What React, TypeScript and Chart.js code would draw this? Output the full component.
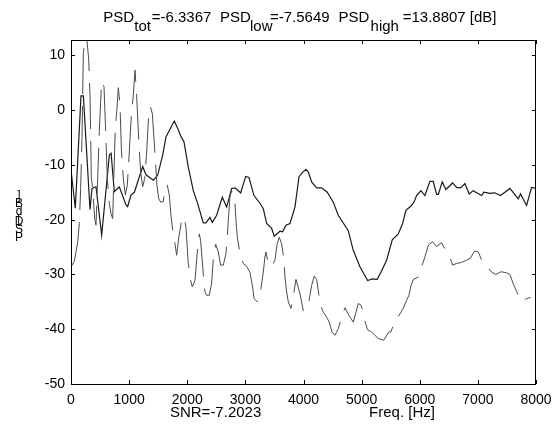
import React, { useEffect, useRef } from 'react';
import { Chart, registerables } from 'chart.js';

Chart.register(...registerables);

// ---- Data (frequency in Hz, PSD in dB) ----
const solidFreq = [
  0, 74, 172, 213, 327, 361, 430, 528, 660, 690, 745, 831, 946, 975, 1032, 1090,
  1233, 1290, 1416, 1491, 1577, 1634, 1777, 1830, 1892, 1944, 2018, 2104, 2172,
  2276, 2322, 2391, 2431, 2506, 2603, 2678, 2764, 2821, 2919, 3005, 3062, 3148,
  3251, 3308, 3366, 3452, 3497, 3595, 3640, 3698, 3767, 3853, 3922, 3979, 4042,
  4082, 4140, 4226, 4312, 4409, 4512, 4598, 4770, 4856, 4971, 5103, 5183, 5269,
  5332, 5430, 5527, 5630, 5705, 5762, 5840, 5900, 5946, 6020, 6089, 6175, 6232,
  6290, 6320, 6387, 6450, 6565, 6634, 6703, 6777, 6851, 6920, 7064, 7104, 7208,
  7293, 7390, 7465, 7551, 7620, 7694, 7734, 7838, 7924, 8000,
];
const solidPsd = [
  -10.9, -17.9, 2.6, 2.6, -18.2, -14.3, -14.0, -22.8, -8.2, -7.9, -14.9, -14.0,
  -17.3, -17.6, -15.5, -15.0, -10.3, -11.8, -12.8, -11.9, -8.2, -4.9, -2.0, -3.2,
  -4.8, -5.8, -10.4, -14.7, -16.8, -20.6, -20.6, -19.6, -20.5, -19.2, -15.9,
  -17.7, -14.3, -14.2, -15.1, -12.1, -12.3, -15.6, -17.0, -18.0, -20.7, -21.6,
  -23.0, -22.1, -22.2, -21.0, -20.7, -17.7, -12.2, -11.4, -10.8, -11.3, -13.1,
  -14.2, -14.2, -15.0, -16.8, -19.2, -22.0, -25.6, -28.6, -31.1, -30.8, -30.9,
  -29.6, -27.4, -23.7, -22.6, -20.7, -18.3, -17.6, -16.8, -15.6, -14.7, -15.6,
  -13.0, -13.0, -15.4, -15.4, -13.1, -14.5, -13.3, -14.1, -14.2, -13.4, -15.3,
  -14.7, -15.6, -15.0, -15.2, -15.1, -15.6, -15.0, -14.3, -15.2, -16.2, -15.3,
  -17.4, -14.1, -14.3,
];

const dashedFreq = [
  0, 57, 115, 143, 166, 189, 212, 258, 304, 327, 350, 373, 407, 430, 459, 487,
  510, 527, 568, 590, 625, 659, 688, 717, 740, 762, 791, 814, 843, 866, 900, 935,
  969, 1003, 1038, 1072, 1101, 1129, 1164, 1198, 1233, 1267, 1301, 1336, 1365,
  1399, 1428, 1450, 1479, 1508, 1542, 1588, 1622, 1657, 1691, 1720, 1749, 1783,
  1818, 1852, 1900, 1944, 1978, 2018, 2058, 2087, 2133, 2173, 2207, 2230, 2276,
  2305, 2333, 2379, 2419, 2448, 2490, 2534, 2574, 2620, 2666, 2689, 2706, 2735,
  2763, 2792, 2821, 2838, 2861, 2907, 2964, 3020, 3079, 3125, 3148, 3205, 3251,
  3268, 3308, 3337, 3354, 3394, 3451, 3509, 3545, 3583, 3624, 3664, 3681, 3710,
  3738, 3784, 3824, 3870, 3939, 3996, 4036, 4082, 4140, 4185, 4226, 4254, 4283,
  4340, 4398, 4443, 4490, 4541, 4598, 4656, 4713, 4782, 4856, 4900, 4942, 4988,
  5028, 5068, 5103, 5172, 5229, 5286, 5380, 5470, 5504, 5544, 5601, 5659, 5716,
  5774, 5814, 5850, 5890, 5974, 6032, 6089, 6146, 6221, 6289, 6376, 6450, 6519,
  6565, 6633, 6720, 6806, 6863, 6949, 7006, 7092, 7178, 7236, 7310, 7400, 7494,
  7551, 7608, 7666, 7752, 7838, 7906,
];
const dashedPsd = [
  -28.6, -27.6, -24.1, -20.7, -14.3, -5.2, 10.3, 14.5, 9.4, 2.7, -12.5, -14.3,
  -19.8, -21.0, -12.5, -3.9, 1.5, 5.2, 4.3, -2.1, -12.5, -17.0, -18.9, -19.8,
  -11.2, -3.3, 0.3, 4.1, 0.9, -7.0, -12.5, -15.5, -13.7, -7.6, -0.9, 2.7, 7.3,
  2.7, -5.2, -11.2, -14.0, -12.5, -7.9, -0.9, 0.6, -0.6, -5.2, -8.8, -13.7,
  -16.1, -16.8, -16.7, -14.0, -13.7, -15.5, -19.2, -21.9, -24.0, -26.5, -23.4,
  -20.3, -19.5, -21.4, -28.0, -31.1, -32.3, -31.1, -25.9, -22.6, -23.8, -29.9,
  -33.2, -33.8, -33.8, -31.7, -27.1, -24.5, -25.9, -28.3, -28.3, -26.2, -23.2,
  -20.1, -15.9, -14.7, -15.9, -17.1, -20.1, -23.2, -26.2, -28.0, -28.5, -29.6,
  -32.3, -34.4, -35.0, -34.1, -32.6, -29.6, -26.8, -25.9, -28.0, -28.6, -27.4,
  -24.5, -23.2, -24.4, -27.4, -30.5, -33.2, -35.0, -36.2, -34.1, -30.9, -33.5,
  -36.6, -36.6, -35.6, -32.0, -30.3, -30.9, -32.9, -35.3, -36.9, -37.8, -38.7,
  -40.5, -41.1, -39.9, -37.8, -36.1, -37.5, -38.7, -37.0, -35.3, -35.6, -36.9,
  -39.0, -40.1, -40.5, -41.1, -41.7, -42.0, -40.5, -40.5, -39.3, -38.1, -37.2,
  -36.2, -34.7, -33.8, -32.0, -30.9, -30.5, -28.6, -26.8, -24.7, -24.0, -24.9,
  -24.2, -25.7, -26.9, -28.3, -28.0, -27.8, -27.4, -27.1, -25.7, -25.9, -28.0,
  -28.8, -29.6, -30.0, -29.5, -29.7, -30.0, -31.7, -33.1, -35.0, -34.4, -34.2,
];

const xTickValues = [0, 1000, 2000, 3000, 4000, 5000, 6000, 7000, 8000];
const yTickValues = [-50, -40, -30, -20, -10, 0, 10];

const titlePieces = [
  { text: 'PSD', x: 103.3, sub: false },
  { text: 'tot', x: 134.3, sub: true },
  { text: '=-6.3367', x: 151.7, sub: false },
  { text: 'PSD', x: 220, sub: false },
  { text: 'low', x: 250, sub: true },
  { text: '=-7.5649', x: 270, sub: false },
  { text: 'PSD', x: 338.6, sub: false },
  { text: 'high', x: 370.6, sub: true },
  { text: '=13.8807 [dB]', x: 402.7, sub: false },
];
const yLabel = 'PSD [dB]';
const snrText = 'SNR=-7.2023';
const xLabel = 'Freq. [Hz]';

const FONT = '"Liberation Sans", Arial, Helvetica, sans-serif';

const decorPlugin = {
  id: 'decor',
  afterDraw(chart: any) {
    const { ctx, chartArea: a } = chart;
    const xs = chart.scales.x;
    const ys = chart.scales.y;
    ctx.save();
    ctx.strokeStyle = '#000';
    ctx.lineWidth = 1;
    // box
    ctx.strokeRect(a.left + 0.5, a.top + 0.5, a.right - a.left - 1, a.bottom - a.top);
    // inward ticks on all four sides
    const tl = 4;
    ctx.beginPath();
    xs.ticks.forEach((t: any) => {
      const px = Math.round(xs.getPixelForValue(t.value)) + 0.5;
      ctx.moveTo(px, a.bottom);
      ctx.lineTo(px, a.bottom - tl);
      ctx.moveTo(px, a.top);
      ctx.lineTo(px, a.top + tl);
    });
    ys.ticks.forEach((t: any) => {
      const py = Math.round(ys.getPixelForValue(t.value)) + 0.5;
      ctx.moveTo(a.left, py);
      ctx.lineTo(a.left + tl, py);
      ctx.moveTo(a.right, py);
      ctx.lineTo(a.right - tl, py);
    });
    ctx.stroke();

    ctx.fillStyle = '#000';
    ctx.textAlign = 'left';
    ctx.textBaseline = 'alphabetic';
    // title with subscripts
    titlePieces.forEach((p) => {
      ctx.font = `15px ${FONT}`;
      ctx.fillText(p.text, p.x, p.sub ? 30.5 : 21.5);
    });
    // bottom texts
    ctx.font = `15px ${FONT}`;
    ctx.textAlign = 'center';
    ctx.fillText(snrText, 215.6, 417);
    ctx.fillText(xLabel, 402, 417);
    // stacked y label (characters upright, bottom to top)
    ctx.font = `12px ${FONT}`;
    const chars = yLabel.split('');
    let yb = 241;
    chars.forEach((ch) => {
      if (ch === ' ') {
        yb += 6;
        return;
      }
      ctx.fillText(ch, 19, yb);
      yb -= 8;
    });
    ctx.restore();
  },
};

export default function App() {
  const ref = useRef<HTMLCanvasElement | null>(null);
  useEffect(() => {
    if (!ref.current) return;
    const chart = new Chart(ref.current, {
      type: 'line',
      data: {
        datasets: [
          {
            data: dashedFreq.map((f, i) => ({ x: f, y: dashedPsd[i] })),
            borderColor: '#4a4a4a',
            borderWidth: 1,
            borderDash: [46, 12],
            pointRadius: 0,
            fill: false,
            tension: 0,
          },
          {
            data: solidFreq.map((f, i) => ({ x: f, y: solidPsd[i] })),
            borderColor: '#1a1a1a',
            borderWidth: 1.2,
            pointRadius: 0,
            fill: false,
            tension: 0,
          },
        ],
      },
      options: {
        animation: false,
        responsive: false,
        layout: { padding: { left: 0, right: 22, top: 40, bottom: 0 } },
        plugins: { legend: { display: false }, title: { display: false }, tooltip: { enabled: false } },
        scales: {
          x: {
            type: 'linear',
            min: 0,
            max: 8000,
            afterBuildTicks: (s: any) => {
              s.ticks = xTickValues.map((v) => ({ value: v }));
            },
            afterFit: (s: any) => {
              s.height = 41;
              s.paddingLeft = 0;
              s.paddingRight = 0;
            },
            grid: { display: false, drawTicks: false },
            border: { display: false },
            ticks: {
              color: '#000',
              font: { family: FONT, size: 14 },
              padding: 8,
              maxRotation: 0,
              autoSkip: false,
              callback: (v: any) => String(v),
            },
          },
          y: {
            type: 'linear',
            min: -50,
            max: 12.8,
            afterBuildTicks: (s: any) => {
              s.ticks = yTickValues.map((v) => ({ value: v }));
            },
            afterFit: (s: any) => {
              s.width = 71;
              s.paddingTop = 0;
              s.paddingBottom = 0;
            },
            grid: { display: false, drawTicks: false },
            border: { display: false },
            ticks: {
              color: '#000',
              font: { family: FONT, size: 14 },
              padding: 6,
              autoSkip: false,
              callback: (v: any) => String(v),
            },
          },
        },
      },
      plugins: [decorPlugin],
    });
    return () => chart.destroy();
  }, []);
  return (
    <div style={{ position: 'fixed', left: 0, top: 0, width: 558, height: 425, background: '#fff' }}>
      <canvas ref={ref} width={558} height={425} style={{ display: 'block' }} />
    </div>
  );
}
